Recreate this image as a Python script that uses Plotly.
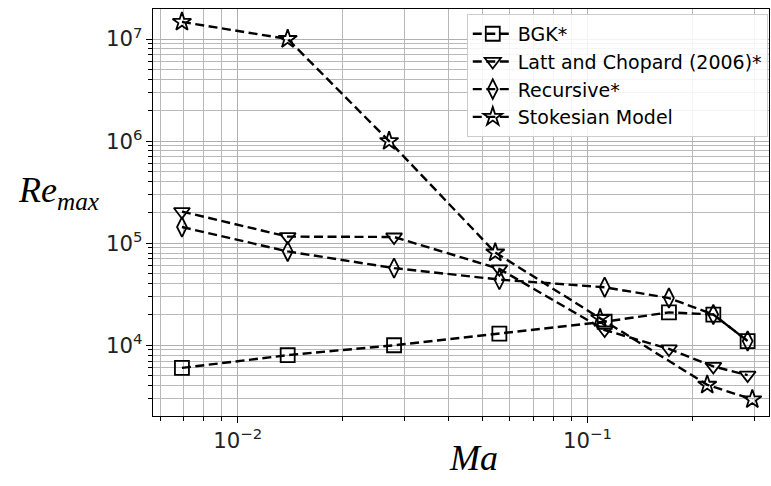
import plotly.graph_objects as go

# Data
ma_a = [0.00693, 0.0139, 0.0280, 0.0560, 0.112, 0.171, 0.229, 0.287]
bgk = [6000, 8000, 10000, 13000, 17000, 21000, 20000, 11000]
latt = [204000, 116000, 115000, 56000, 14100, 9200, 6200, 5100]
recursive = [144000, 83000, 57000, 44000, 37000, 29000, 20000, 11000]
ma_s = [0.00693, 0.0139, 0.0271, 0.0545, 0.1087, 0.220, 0.296]
stokes = [14700000, 10000000, 1000000, 81000, 18400, 4100, 2950]

names = ["BGK*", "Latt and Chopard (2006)*", "Recursive*", "Stokesian Model"]
symbols = ["square-open", "triangle-down-open", "diamond-tall-open", "star-open"]
xs = [ma_a, ma_a, ma_a, ma_s]
ys = [bgk, latt, recursive, stokes]

fig = go.Figure()
for n, s, x, y in zip(names, symbols, xs, ys):
    fig.add_trace(go.Scatter(
        x=x, y=y, name=n, mode="lines+markers",
        line=dict(color="black", width=2.4, dash="9px,4.5px"),
        marker=dict(symbol=s, size=14, color="black", line=dict(color="black", width=1.8)),
    ))

axis_common = dict(
    type="log", showline=True, mirror=True, linecolor="black", linewidth=1.2,
    ticks="outside", ticklen=6, tickcolor="black", showgrid=True,
    gridcolor="#b0b0b0", gridwidth=1, zeroline=False,
    exponentformat="power", dtick=1,
    tickfont=dict(family="DejaVu Sans", size=17, color="#222"),
    minor=dict(ticks="outside", ticklen=3.5, tickcolor="black", showgrid=True,
               gridcolor="#b8b8b8", gridwidth=1, dtick="D1"),
)

fig.update_xaxes(**axis_common, range=[-2.242, -0.481])
fig.update_yaxes(**axis_common, range=[3.307, 7.294])

fig.update_layout(
    width=771, height=486,
    margin=dict(l=153, r=2, t=9, b=70),
    plot_bgcolor="white", paper_bgcolor="white",
    showlegend=True,
    legend=dict(x=0.998, y=0.988, xanchor="right", yanchor="top", itemwidth=40,
                bgcolor="rgba(255,255,255,0.85)", bordercolor="#cccccc", borderwidth=1,
                font=dict(family="DejaVu Sans", size=19, color="black")),
    annotations=[
        dict(text="<i>Re</i><sub><i>max</i></sub>", xref="paper", yref="paper",
             x=-0.085, y=0.55, xanchor="right", yanchor="middle", showarrow=False,
             font=dict(family="Liberation Serif", size=36, color="black")),
        dict(text="<i>Ma</i>", xref="paper", yref="paper",
             x=0.52, y=-0.05, xanchor="center", yanchor="top", showarrow=False,
             font=dict(family="Liberation Serif", size=36, color="black")),
    ],
)

fig.write_html("out.html")
